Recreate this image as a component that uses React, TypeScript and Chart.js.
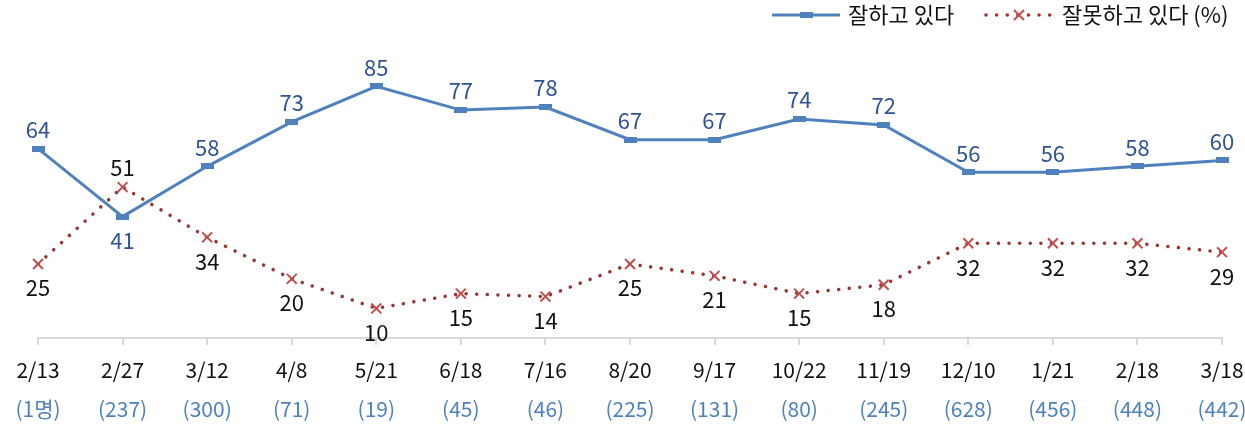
import { useEffect, useRef } from 'react';
import { Chart, registerables } from 'chart.js';

Chart.register(...registerables);

const categories = ['2/13', '2/27', '3/12', '4/8', '5/21', '6/18', '7/16', '8/20', '9/17', '10/22', '11/19', '12/10', '1/21', '2/18', '3/18'];
const sampleSizes = ['(1명)', '(237)', '(300)', '(71)', '(19)', '(45)', '(46)', '(225)', '(131)', '(80)', '(245)', '(628)', '(456)', '(448)', '(442)'];
const goodValues = [64, 41, 58, 73, 85, 77, 78, 67, 67, 74, 72, 56, 56, 58, 60];
const badValues = [25, 51, 34, 20, 10, 15, 14, 25, 21, 15, 18, 32, 32, 32, 29];
const seriesNames = ['잘하고 있다', '잘못하고 있다 (%)'];

const FONT = '"Noto Sans CJK KR", "Noto Sans", sans-serif';
const BLUE = '#4f81bd';
const BLUE_LABEL = '#2f5491';
const RED_LINE = '#953735';
const RED_MARK = '#c0504d';

function makeMarker(): HTMLCanvasElement {
  const c = document.createElement('canvas');
  c.width = 13;
  c.height = 6;
  const g = c.getContext('2d')!;
  g.fillStyle = BLUE;
  g.fillRect(0, 0, 13, 6);
  return c;
}

export default function App() {
  const ref = useRef<HTMLCanvasElement>(null);

  useEffect(() => {
    document.body.style.margin = '0';
    const canvas = ref.current;
    if (!canvas) return;
    const marker = makeMarker();

    const labelPlugin = {
      id: 'valueLabels',
      afterDatasetsDraw(chart: any) {
        const ctx = chart.ctx;
        ctx.save();
        ctx.font = `22px ${FONT}`;
        ctx.textAlign = 'center';
        ctx.textBaseline = 'middle';
        chart.data.datasets.forEach((ds: any, di: number) => {
          const meta = chart.getDatasetMeta(di);
          const other = chart.data.datasets[1 - di].data;
          meta.data.forEach((pt: any, i: number) => {
            const v = ds.data[i];
            const above = v >= other[i];
            ctx.fillStyle = di === 0 ? BLUE_LABEL : '#111';
            ctx.fillText(String(v), pt.x, above ? pt.y - 19 : pt.y + 24);
          });
        });
        ctx.restore();
      },
    };

    const legendPlugin = {
      id: 'customLegend',
      afterDraw(chart: any) {
        const ctx = chart.ctx;
        const y = 15;
        ctx.save();
        ctx.strokeStyle = BLUE;
        ctx.lineWidth = 3;
        ctx.beginPath();
        ctx.moveTo(772, y);
        ctx.lineTo(840, y);
        ctx.stroke();
        ctx.drawImage(marker, 806 - 6.5, y - 3);
        ctx.strokeStyle = RED_LINE;
        ctx.lineWidth = 3.5;
        ctx.lineCap = 'round';
        ctx.setLineDash([0.1, 10.5]);
        ctx.beginPath();
        ctx.moveTo(986, y);
        ctx.lineTo(1052, y);
        ctx.stroke();
        ctx.setLineDash([]);
        ctx.strokeStyle = RED_MARK;
        ctx.lineWidth = 2;
        ctx.lineCap = 'butt';
        const cx = 1019, r = 5;
        ctx.beginPath();
        ctx.moveTo(cx - r, y - r);
        ctx.lineTo(cx + r, y + r);
        ctx.moveTo(cx + r, y - r);
        ctx.lineTo(cx - r, y + r);
        ctx.stroke();
        ctx.fillStyle = '#111';
        ctx.font = `22px ${FONT}`;
        ctx.textAlign = 'left';
        ctx.textBaseline = 'middle';
        ctx.fillText(chart.data.datasets[0].label, 848, y);
        ctx.fillText(chart.data.datasets[1].label, 1062, y);
        ctx.restore();
      },
    };

    const noSidePad = (s: any, h: number) => {
      s.height = h;
      s.paddingLeft = 0;
      s.paddingRight = 0;
    };

    const chart = new Chart(canvas, {
      type: 'line',
      data: {
        labels: categories,
        datasets: [
          {
            label: seriesNames[0],
            data: goodValues,
            borderColor: BLUE,
            borderWidth: 3,
            backgroundColor: BLUE,
            pointStyle: marker as any,
            pointRadius: 6,
            tension: 0,
            clip: false as any,
          },
          {
            label: seriesNames[1],
            data: badValues,
            borderColor: RED_LINE,
            borderWidth: 3.5,
            borderCapStyle: 'round',
            borderDash: [0.1, 10.5],
            pointStyle: 'crossRot',
            pointRadius: 7,
            pointBorderWidth: 2,
            pointBorderColor: RED_MARK,
            pointBackgroundColor: RED_MARK,
            tension: 0,
            clip: false as any,
          },
        ],
      },
      options: {
        responsive: false,
        animation: false,
        devicePixelRatio: 1,
        layout: { padding: { left: 38, right: 23, top: 42, bottom: 0 } },
        plugins: {
          legend: { display: false },
          tooltip: { enabled: false },
        },
        scales: {
          y: { display: false, min: 0, max: 100 },
          x: {
            type: 'category',
            offset: false,
            weight: 0,
            grid: {
              display: true,
              drawOnChartArea: false,
              drawTicks: true,
              tickLength: 7,
              color: '#d9d9d9',
              lineWidth: 2,
            },
            border: { display: true, color: '#d9d9d9', width: 2 },
            ticks: {
              color: '#111',
              font: { family: FONT, size: 21 },
              padding: 12,
              maxRotation: 0,
              autoSkip: false,
            },
            afterFit: (s: any) => noSidePad(s, 48),
          },
          x2: {
            type: 'category',
            position: 'bottom',
            labels: sampleSizes,
            offset: false,
            weight: 1,
            grid: { display: false, drawTicks: false },
            border: { display: false },
            ticks: {
              color: BLUE,
              font: { family: FONT, size: 21 },
              padding: 10,
              maxRotation: 0,
              autoSkip: false,
            },
            afterFit: (s: any) => noSidePad(s, 38),
          },
        },
      },
      plugins: [labelPlugin, legendPlugin],
    });

    return () => chart.destroy();
  }, []);

  return <canvas ref={ref} width={1245} height={424} style={{ display: 'block' }} />;
}
